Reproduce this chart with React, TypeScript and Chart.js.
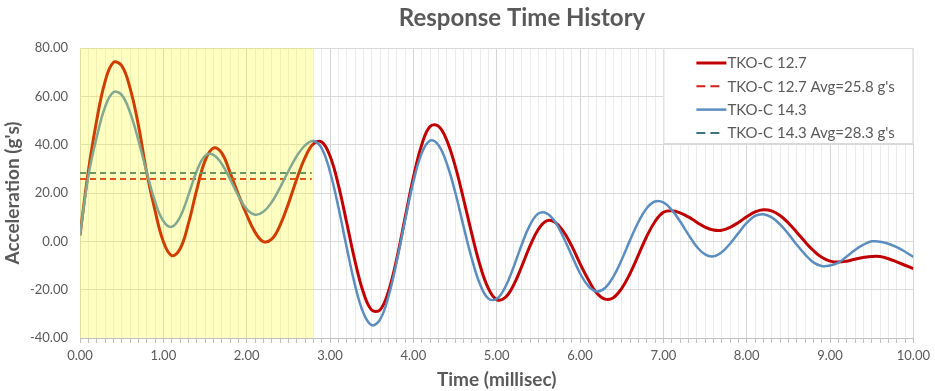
import React, { useEffect, useRef } from 'react';
import { Chart, registerables } from 'chart.js';

Chart.register(...registerables);

// Time axis (milliseconds)
const timeMs = [
  0.0, 0.1, 0.2, 0.3, 0.4, 0.5, 0.6, 0.7, 0.8, 0.9,
  1.0, 1.1, 1.2, 1.3, 1.4, 1.5, 1.6, 1.7, 1.8, 1.9,
  2.0, 2.1, 2.2, 2.3, 2.4, 2.5, 2.6, 2.7, 2.8, 2.9,
  3.0, 3.1, 3.2, 3.3, 3.4, 3.5, 3.6, 3.7, 3.8, 3.9,
  4.0, 4.1, 4.2, 4.3, 4.4, 4.5, 4.6, 4.7, 4.8, 4.9,
  5.0, 5.1, 5.2, 5.3, 5.4, 5.5, 5.6, 5.7, 5.8, 5.9,
  6.0, 6.1, 6.2, 6.3, 6.4, 6.5, 6.6, 6.7, 6.8, 6.9,
  7.0, 7.1, 7.2, 7.3, 7.4, 7.5, 7.6, 7.7, 7.8, 7.9,
  8.0, 8.1, 8.2, 8.3, 8.4, 8.5, 8.6, 8.7, 8.8, 8.9,
  9.0, 9.1, 9.2, 9.3, 9.4, 9.5, 9.6, 9.7, 9.8, 9.9,
  10.0,
];

// TKO-C 12.7 acceleration (g's)
const tko127 = [
  2.5, 29, 50, 66, 74, 72.7, 63.5, 48.2, 28.5, 12.8,
  -0.1, -5.9, -3.2, 7.2, 21.2, 33.3, 38.6, 36.6, 28.5, 19.5,
  11.0, 3.8, -0.1, 0.9, 6.6, 15.5, 25.7, 34.6, 40.3, 41.1,
  35.3, 23.4, 7.8, -8.2, -21.1, -28.4, -28.4, -20.8, -7.3, 9.6,
  26.4, 39.9, 47.5, 47.7, 41.9, 31.4, 17.8, 3.3, -9.9, -19.5,
  -24.1, -23.3, -18.3, -10.4, -1.9, 5.0, 8.5, 7.9, 4.1, -1.9,
  -9.2, -15.9, -21.4, -23.9, -23.3, -19.5, -13.3, -5.7, 2.0, 8.2,
  12.0, 12.7, 11.8, 10.1, 7.9, 5.9, 4.7, 4.6, 5.8, 7.8,
  10.2, 12.2, 13.1, 12.6, 10.7, 7.6, 3.8, -0.2, -3.8, -6.6,
  -8.2, -8.6, -8.2, -7.4, -6.7, -6.25, -6.3, -7.2, -8.5, -9.9,
  -11.3,
];

// TKO-C 14.3 acceleration (g's)
const tko143 = [
  2.5, 27, 43, 55.5, 61.7, 60.6, 53.4, 41.9, 28.7, 16.6,
  8.4, 6.0, 10.0, 19.0, 29.0, 35.4, 35.8, 32.1, 25.8, 18.8,
  13.3, 11.0, 12.2, 16.2, 22.2, 29.0, 35.2, 39.7, 41.5, 38.5,
  28.8, 14.2, -2.5, -18.1, -29.6, -34.7, -32.4, -23.0, -8.4, 8.6,
  24.6, 36.4, 41.7, 39.9, 32.3, 20.6, 6.5, -7.0, -17.8, -23.7,
  -23.8, -19.1, -10.9, -1.4, 6.8, 11.5, 11.6, 8.1, 1.7, -5.8,
  -13.2, -18.5, -20.7, -19.3, -14.6, -7.6, 0.5, 8.0, 13.7, 16.5,
  16.1, 13.0, 8.3, 2.8, -2.2, -5.4, -6.2, -4.5, -1.0, 3.4,
  7.6, 10.5, 11.2, 9.9, 7.0, 3.1, -1.4, -5.4, -8.7, -10.2,
  -10.0, -8.8, -6.3, -3.6, -1.4, 0.0, -0.2, -1.0, -2.4, -4.3,
  -6.5,
];

// Averages over the highlighted window
const avgWindow = [0, 2.78];
const avg127 = 25.8;
const avg143 = 28.3;
const highlightWindow = [0, 2.8];

const seriesNames = [
  'TKO-C 12.7',
  "TKO-C 12.7 Avg=25.8 g's",
  'TKO-C 14.3',
  "TKO-C 14.3 Avg=28.3 g's",
];

const xMajorValues = [0, 1, 2, 3, 4, 5, 6, 7, 8, 9, 10];
const xTickLabels = ['0.00', '1.00', '2.00', '3.00', '4.00', '5.00', '6.00', '7.00', '8.00', '9.00', '10.00'];
const yTickValues = [-40, -20, 0, 20, 40, 60, 80];
const yTickLabels = ['-40.00', '-20.00', '0.00', '20.00', '40.00', '60.00', '80.00'];

const chartTitle = 'Response Time History';
const xTitle = 'Time (millisec)';
const yTitle = "Acceleration (g's)";

const FONT = "Lato, 'Open Sans', 'DejaVu Sans', sans-serif";
const TEXT = '#595959';
const RED = '#C00000';
const BLUE = '#5B8DBE';
const RED_DASH = '#D42020';
const TEAL_DASH = '#3A7480';

const highlightPlugin = {
  id: 'highlightWindow',
  afterDatasetsDraw(chart: any) {
    const { ctx, chartArea, scales } = chart;
    const x0 = scales.x.getPixelForValue(highlightWindow[0]);
    const x1 = scales.x.getPixelForValue(highlightWindow[1]);
    ctx.save();
    ctx.fillStyle = 'rgba(255, 255, 0, 0.24)';
    ctx.fillRect(x0, chartArea.top, x1 - x0, chartArea.bottom - chartArea.top);
    ctx.restore();
  },
};

const legendBoxPlugin = {
  id: 'legendBox',
  afterDraw(chart: any) {
    const { ctx, chartArea } = chart;
    const w = 250;
    const h = 96;
    const left = chartArea.right - w;
    const top = chartArea.top;
    ctx.save();
    ctx.fillStyle = '#FFFFFF';
    ctx.fillRect(left, top, w, h);
    ctx.strokeStyle = '#D9D9D9';
    ctx.lineWidth = 1;
    ctx.strokeRect(left + 0.5, top + 0.5, w - 1, h - 1);
    ctx.font = `15px ${FONT}`;
    ctx.textBaseline = 'middle';
    ctx.textAlign = 'left';
    chart.data.datasets.forEach((ds: any, i: number) => {
      const y = top + 15 + i * 23.3;
      const dashed = !!ds.borderDash;
      ctx.beginPath();
      ctx.strokeStyle = ds.borderColor;
      ctx.lineWidth = ds.borderWidth;
      ctx.setLineDash(dashed ? [9, 5] : []);
      ctx.moveTo(left + 33, y);
      ctx.lineTo(left + (dashed ? 57 : 63), y);
      ctx.stroke();
      ctx.setLineDash([]);
      ctx.fillStyle = TEXT;
      ctx.fillText(ds.label, left + 64, y + 0.5);
    });
    ctx.restore();
  },
};

const titlePlugin = {
  id: 'customTitle',
  afterDraw(chart: any) {
    const { ctx } = chart;
    ctx.save();
    ctx.font = `bold 24px ${FONT}`;
    ctx.fillStyle = TEXT;
    ctx.textAlign = 'center';
    ctx.textBaseline = 'middle';
    ctx.fillText(chartTitle, 522, 18);
    ctx.restore();
  },
};

export default function App() {
  const canvasRef = useRef<HTMLCanvasElement | null>(null);

  useEffect(() => {
    document.body.style.margin = '0';
    const canvas = canvasRef.current;
    if (!canvas) return;

    const chart = new Chart(canvas, {
      type: 'line',
      data: {
        labels: timeMs,
        datasets: [
          {
            label: seriesNames[0],
            data: tko127,
            borderColor: RED,
            borderWidth: 3,
            pointRadius: 0,
            tension: 0.4,
            fill: false,
            order: 4,
          },
          {
            label: seriesNames[1],
            data: avgWindow.map((t) => ({ x: t, y: avg127 })),
            borderColor: RED_DASH,
            borderWidth: 2,
            borderDash: [6, 4],
            pointRadius: 0,
            tension: 0,
            fill: false,
            order: 3,
          },
          {
            label: seriesNames[2],
            data: tko143,
            borderColor: BLUE,
            borderWidth: 2.5,
            pointRadius: 0,
            tension: 0.4,
            fill: false,
            order: 2,
          },
          {
            label: seriesNames[3],
            data: avgWindow.map((t) => ({ x: t, y: avg143 })),
            borderColor: TEAL_DASH,
            borderWidth: 2,
            borderDash: [6, 4],
            pointRadius: 0,
            tension: 0,
            fill: false,
            order: 1,
          },
        ],
      },
      options: {
        animation: false,
        responsive: true,
        maintainAspectRatio: false,
        layout: { padding: { top: 48, right: 20, left: 0, bottom: 0 } },
        plugins: {
          legend: { display: false },
          tooltip: { enabled: false },
          title: { display: false },
        },
        scales: {
          x: {
            type: 'linear',
            min: 0,
            max: 10,
            afterFit: (scale: any) => {
              scale.height = 53;
            },
            ticks: {
              stepSize: 0.1,
              autoSkip: false,
              maxRotation: 0,
              padding: 5,
              color: TEXT,
              font: { family: FONT, size: 13 },
              callback: (value: any) => {
                const i = Math.round(Number(value) * 10);
                if (i % 10 !== 0) return '';
                const idx = xMajorValues.indexOf(i / 10);
                return idx >= 0 ? xTickLabels[idx] : '';
              },
            },
            grid: {
              color: (ctx: any) => {
                const v = ctx.tick ? ctx.tick.value : 0;
                const i = Math.round(v * 10);
                return i % 10 === 0 ? '#D4D4D4' : '#EBEBEB';
              },
              lineWidth: 1,
              drawTicks: true,
              tickLength: 5,
              tickColor: '#BFBFBF',
            },
            border: { display: true, color: '#BFBFBF' },
            title: {
              display: true,
              text: xTitle,
              color: TEXT,
              font: { family: FONT, size: 19, weight: 'bold' },
              padding: { top: 0, bottom: 0 },
            },
          },
          y: {
            type: 'linear',
            min: -40,
            max: 80,
            afterFit: (scale: any) => {
              scale.width = 80;
            },
            ticks: {
              stepSize: 20,
              padding: 12,
              color: TEXT,
              font: { family: FONT, size: 13 },
              callback: (value: any) => {
                const idx = yTickValues.indexOf(Math.round(Number(value)));
                return idx >= 0 ? yTickLabels[idx] : '';
              },
            },
            grid: {
              color: '#D9D9D9',
              drawTicks: false,
            },
            border: { display: false },
            title: {
              display: true,
              text: yTitle,
              color: TEXT,
              font: { family: FONT, size: 19, weight: 'bold' },
              padding: { top: 1, bottom: 0 },
            },
          },
        },
      } as any,
      plugins: [highlightPlugin, legendBoxPlugin, titlePlugin],
    });

    return () => {
      chart.destroy();
    };
  }, []);

  return (
    <div style={{ width: 935, height: 391, position: 'relative', background: '#FFFFFF' }}>
      <canvas ref={canvasRef} />
    </div>
  );
}
